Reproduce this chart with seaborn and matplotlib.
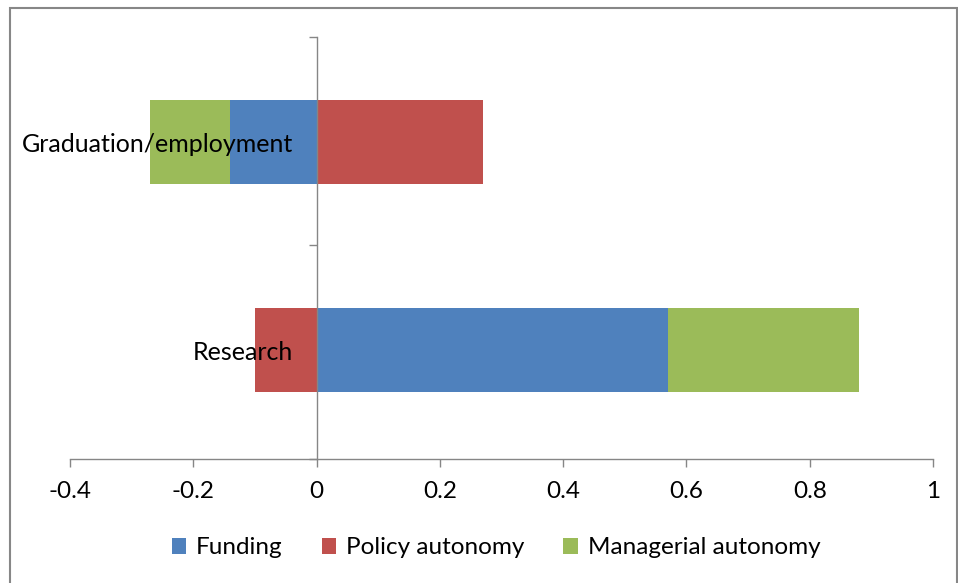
import numpy as np
import pandas as pd
import matplotlib
matplotlib.use("Agg")
import matplotlib.pyplot as plt
import seaborn as sns
from matplotlib.patches import Patch, Rectangle
from matplotlib.ticker import FixedLocator, FixedFormatter

# ---- data ----
categories = ["Graduation/employment", "Research"]
series = ["Funding", "Policy autonomy", "Managerial autonomy"]
funding = [-0.14, 0.57]
policy_autonomy = [0.27, -0.10]
managerial_autonomy = [-0.13, 0.31]
colors = ["#4F81BD", "#C0504D", "#9BBB59"]
x_ticks = [-0.4, -0.2, 0.0, 0.2, 0.4, 0.6, 0.8, 1.0]
x_tick_labels = ["-0.4", "-0.2", "0", "0.2", "0.4", "0.6", "0.8", "1"]

values = {"Funding": funding, "Policy autonomy": policy_autonomy,
          "Managerial autonomy": managerial_autonomy}

sns.set_theme(style="white")
plt.rcParams["font.family"] = ["Lato", "DejaVu Sans"]

W, H = 958, 583
fig = plt.figure(figsize=(W / 100, H / 100), dpi=100)
fig.patch.set_facecolor("white")
ax = fig.add_axes([70 / W, 1 - 459 / H, (933 - 70) / W, (459 - 37) / H])

# stacked ends (positive and negative stacks separately, like Excel)
pos = np.zeros(len(categories))
neg = np.zeros(len(categories))
ends = {}
for s in series:
    v = np.array(values[s], dtype=float)
    ends[s] = np.where(v >= 0, pos + v, neg + v)
    pos = np.where(v >= 0, pos + v, pos)
    neg = np.where(v < 0, neg + v, neg)

for s, c in reversed(list(zip(series, colors))):
    df = pd.DataFrame({"category": categories, "end": ends[s]})
    sns.barplot(data=df, x="end", y="category", order=categories, color=c,
                saturation=1, width=0.404, orient="h", linewidth=0,
                errorbar=None, ax=ax)

ax.set_xlim(-0.4, 1.0)
ax.set_ylim(1.524, -0.505)
ax.set_xlabel("")
ax.set_ylabel("")
ax.set_axisbelow(False)

axis_gray = "#868686"
for side in ["top", "right"]:
    ax.spines[side].set_visible(False)
ax.spines["left"].set_position(("data", 0))
ax.spines["left"].set_color(axis_gray)
ax.spines["bottom"].set_color(axis_gray)
ax.spines["left"].set_linewidth(1.0)
ax.spines["bottom"].set_linewidth(1.0)

ax.xaxis.set_major_locator(FixedLocator(x_ticks))
ax.xaxis.set_major_formatter(FixedFormatter(x_tick_labels))
ax.tick_params(axis="x", which="major", length=5.8, width=1, color=axis_gray,
               direction="out", pad=10, labelsize=17.5, labelcolor="black", bottom=True)

ax.yaxis.set_minor_locator(FixedLocator([-0.505, 0.495, 1.524]))
ax.tick_params(axis="y", which="major", length=0, pad=17, labelsize=18,
               labelcolor="black")
ax.tick_params(axis="y", which="minor", length=5.8, width=1, color=axis_gray,
               direction="out", left=True)

handles = [Patch(facecolor=c, edgecolor="none", label=s) for s, c in zip(series, colors)]
fig.legend(handles=handles, loc="center", bbox_to_anchor=(496 / W, 1 - 548 / H),
           ncol=3, frameon=False, fontsize=17.5, handlelength=0.6, handleheight=0.6,
           handletextpad=0.4, columnspacing=1.6, labelcolor="black")

fig.add_artist(Rectangle((10 / W, -0.1), (957 - 10) / W, 1 - 8 / H + 0.1,
                         transform=fig.transFigure, fill=False,
                         edgecolor="#878787", linewidth=1.5))

fig.savefig("out.png", dpi=100)
